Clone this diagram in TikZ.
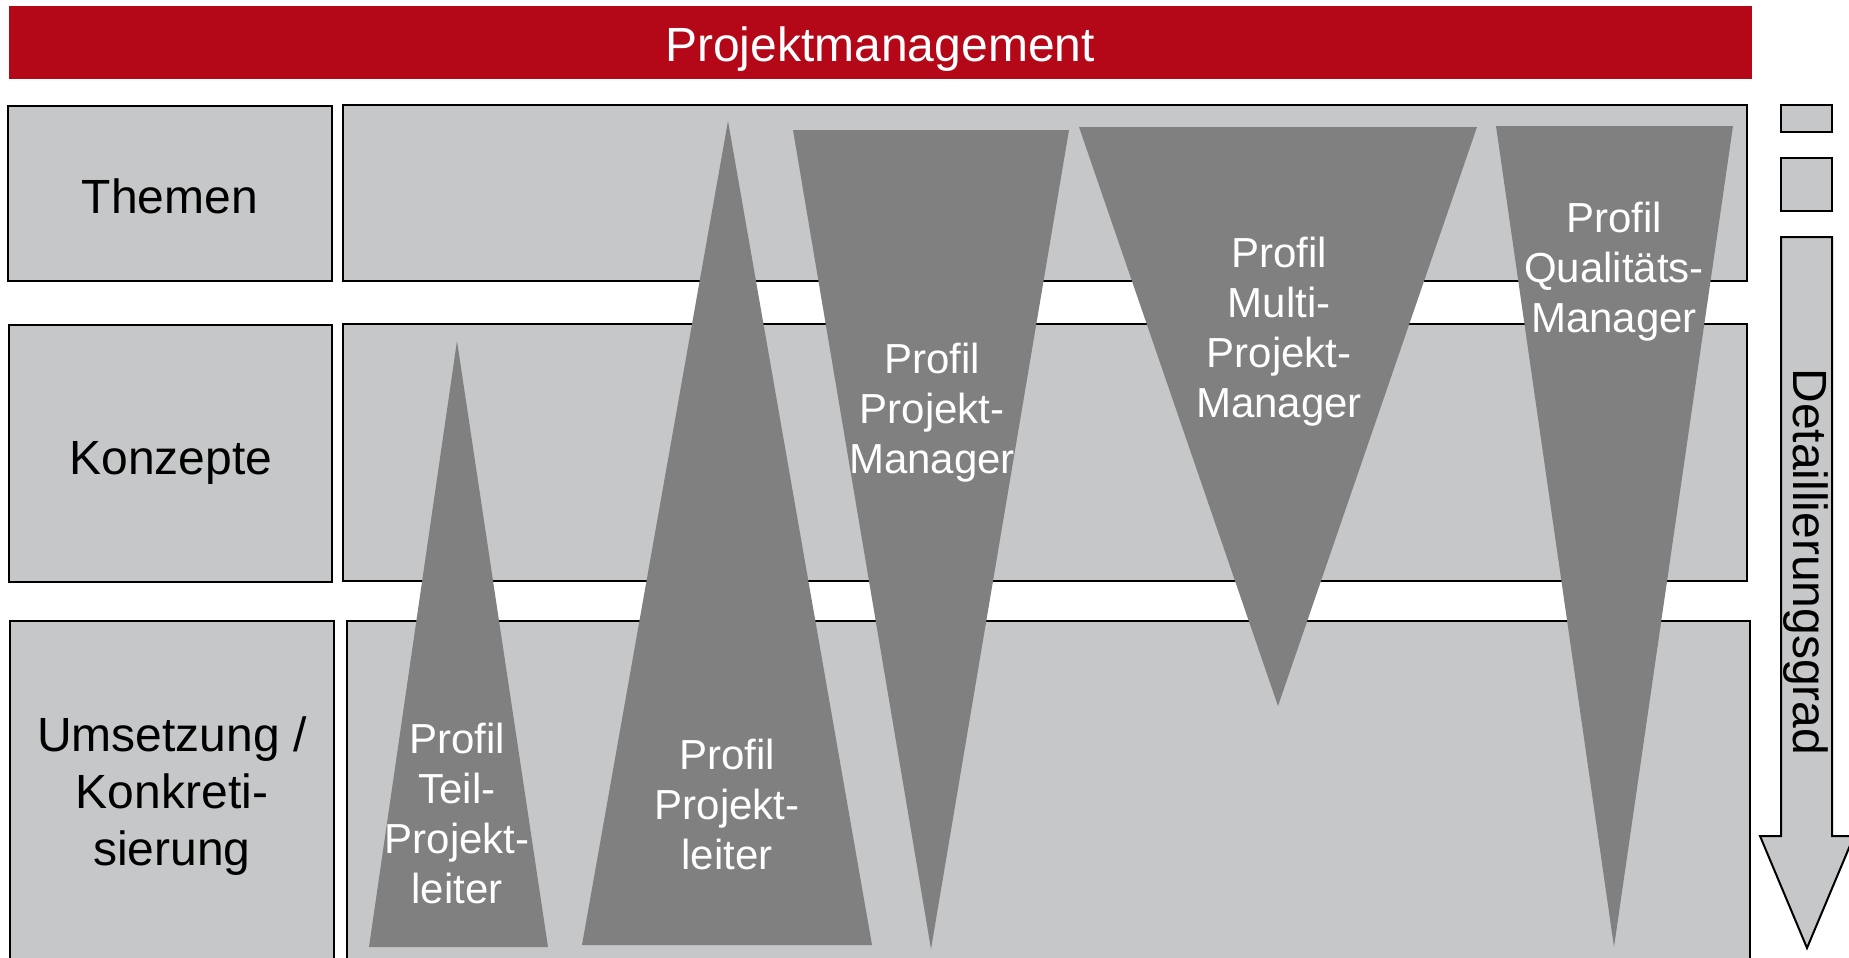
\documentclass[tikz,border=0pt]{standalone}
\usepackage{fontspec}
\setmainfont{Liberation Sans}
\definecolor{pmred}{HTML}{B40819}
\definecolor{boxgray}{HTML}{C6C7C9}
\definecolor{profgray}{HTML}{808080}

\begin{document}
\begin{tikzpicture}[x=0.5pt,y=-0.5pt,
  rowbox/.style={draw=black,line width=1pt,fill=boxgray},
  rowtext/.style={align=center,font=\fontsize{24}{28.5}\selectfont},
  profil/.style={fill=profgray},
  profiltext/.style={text=white,align=center,font=\fontsize{21}{25}\selectfont}]

  \useasboundingbox (0,0) rectangle (1849,958);
  \clip (0,0) rectangle (1849,958);

  % header
  \fill[pmred] (9,6) rectangle (1752,79);
  \node[text=white,font=\fontsize{24}{28}\selectfont] at(880,49)(title){Projektmanagement};

  % rows
  \draw[rowbox] (8,106) rectangle (332,281);
  \draw[rowbox] (343,105) rectangle (1747,281);
  \draw[rowbox] (9,325) rectangle (332,582);
  \draw[rowbox] (343,324) rectangle (1747,581);
  \draw[rowbox] (10,621) rectangle (334,960);
  \draw[rowbox] (347,621) rectangle (1750,960);

  \node[rowtext] at(170,196)(themen){Themen};
  \node[rowtext] at(171,463)(konzepte){Konzepte};
  \node[rowtext] at(172,796)(umsetzung){Umsetzung /\\Konkreti-\\sierung};

  % profiles
  \fill[profil] (457,341) -- (548,947) -- (369,947) -- cycle;
  \fill[profil] (728,121) -- (872,945) -- (582,945) -- cycle;
  \fill[profil] (793,130) -- (1069,130) -- (931,949) -- cycle;
  \fill[profil] (1079,127) -- (1477,127) -- (1278,706) -- cycle;
  \fill[profil] (1496,126) -- (1733,126) -- (1614,947) -- cycle;

  \node[profiltext] at(457,813)(teil){Profil\\Teil-\\Projekt-\\leiter};
  \node[profiltext] at(727,804)(leiter){Profil\\Projekt-\\leiter};
  \node[profiltext] at(932,413)(manager){Profil\\Projekt-\\Manager};
  \node[profiltext] at(1279,332)(multi){Profil\\Multi-\\Projekt-\\Manager};
  \node[profiltext] at(1614,272)(quali){Profil\\Qualitäts-\\Manager};

  % detail scale
  \draw[rowbox] (1781,105) rectangle (1832,132);
  \draw[rowbox] (1781,158) rectangle (1832,211);
  \draw[rowbox] (1781,237) -- (1832,237) -- (1832,836) -- (1854,836)
    -- (1807,948) -- (1760,836) -- (1781,836) -- cycle;
  \node[rowtext,rotate=-90] at(1806,562)(grad){Detaillierungsgrad};

\end{tikzpicture}
\end{document}
